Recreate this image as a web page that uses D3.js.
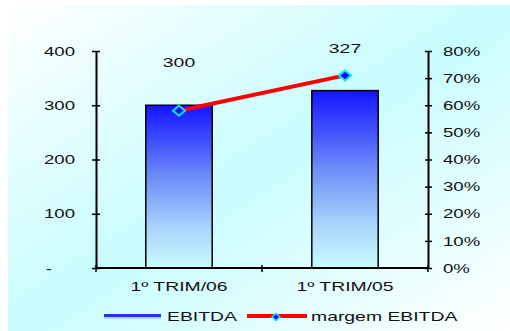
<!DOCTYPE html>
<html>
<head>
<meta charset="utf-8">
<script src="https://cdn.jsdelivr.net/npm/d3@7"></script>
<style>
  body { margin: 0; background: #fff; }
  svg text { font-family: "Liberation Sans", Arial, sans-serif; fill: #111; }
</style>
</head>
<body>
<svg id="chart" width="510" height="331"></svg>
<script>
// data
const categories = ["1º TRIM/06", "1º TRIM/05"];
const ebitda = [300, 327];
const margem = [0.58, 0.71];
const leftTicks = [0, 100, 200, 300, 400];
const rightTicks = [0, 0.1, 0.2, 0.3, 0.4, 0.5, 0.6, 0.7, 0.8];

// text in the original is stretched sideways
const sx = 1.55;

const svg = d3.select("#chart");
const defs = svg.append("defs");

// background gradient (white corners top-left / bottom-right, cyan on the other diagonal)
const bg = defs.append("linearGradient").attr("id", "bg")
  .attr("x1", 0).attr("y1", 0).attr("x2", 1).attr("y2", 1);
bg.append("stop").attr("offset", "0%").attr("stop-color", "#ffffff");
bg.append("stop").attr("offset", "50%").attr("stop-color", "#c8fcfd");
bg.append("stop").attr("offset", "100%").attr("stop-color", "#ffffff");

// bar gradient
const bar = defs.append("linearGradient").attr("id", "barFill")
  .attr("x1", 0).attr("y1", 0).attr("x2", 0).attr("y2", 1);
bar.append("stop").attr("offset", "0%").attr("stop-color", "#1414ff");
bar.append("stop").attr("offset", "45%").attr("stop-color", "#6f8ff8");
bar.append("stop").attr("offset", "75%").attr("stop-color", "#a6d4fa");
bar.append("stop").attr("offset", "100%").attr("stop-color", "#c8fcfd");

svg.append("rect").attr("x", 8).attr("y", 5).attr("width", 502).attr("height", 326)
  .attr("fill", "url(#bg)");

// scales
const x = d3.scaleBand().domain(categories).range([96, 428])
  .paddingInner(0.6).paddingOuter(0.3);
const y = d3.scaleLinear().domain([0, 400]).range([268, 51]);
const y2 = d3.scaleLinear().domain([0, 0.8]).range([268, 51]);

// bars
svg.selectAll(".bar")
  .data(ebitda)
  .enter()
  .append("rect")
  .attr("class", "bar")
  .attr("x", (d, i) => x(categories[i]))
  .attr("y", (d) => y(d))
  .attr("width", x.bandwidth())
  .attr("height", (d) => y(0) - y(d))
  .attr("fill", "url(#barFill)")
  .attr("stroke", "#000")
  .attr("stroke-width", 1.5);

// left axis
const gl = svg.append("g").attr("transform", "translate(96,0)")
  .call(d3.axisLeft(y).tickValues(leftTicks).tickSize(0).tickFormat((d) => (d === 0 ? "-" : d)));
gl.select(".domain").attr("stroke", "#000").attr("stroke-width", 2);
gl.selectAll(".tick").append("line").attr("x1", -4).attr("x2", 4).attr("stroke", "#000").attr("stroke-width", 1.5);
gl.selectAll(".tick text")
  .attr("font-size", 12)
  .attr("fill", "#111")
  .attr("dy", "0.35em")
  .attr("x", (d) => (d === 0 ? -44 : -21) / sx)
  .attr("transform", `scale(${sx},1)`);

// right axis
const gr = svg.append("g").attr("transform", "translate(428,0)")
  .call(d3.axisRight(y2).tickValues(rightTicks).tickSize(0).tickFormat(d3.format(".0%")));
gr.select(".domain").attr("stroke", "#000").attr("stroke-width", 2);
gr.selectAll(".tick").append("line").attr("x1", -3).attr("x2", 4).attr("stroke", "#000").attr("stroke-width", 1.5);
gr.selectAll(".tick text")
  .attr("font-size", 12)
  .attr("fill", "#111")
  .attr("dy", "0.35em")
  .attr("x", 15 / sx)
  .attr("transform", `scale(${sx},1)`);

// bottom axis with separators between categories
const gb = svg.append("g").attr("transform", "translate(0,268)");
gb.append("line").attr("x1", 96).attr("x2", 428).attr("stroke", "#000").attr("stroke-width", 2);
const seps = [96, x(categories[1]) - x.step() * x.paddingInner() / 2, 428];
gb.selectAll(".sep").data(seps).enter().append("line")
  .attr("x1", (d) => d).attr("x2", (d) => d).attr("y1", -3).attr("y2", 4)
  .attr("stroke", "#000").attr("stroke-width", 1.5);
gb.selectAll(".xlab").data(categories).enter().append("text")
  .attr("transform", (d) => `translate(${x(d) + x.bandwidth() / 2},23) scale(${sx},1)`)
  .attr("text-anchor", "middle")
  .attr("font-size", 12.5)
  .text((d) => d);

// data labels
svg.selectAll(".lbl").data(ebitda).enter().append("text")
  .attr("transform", (d, i) => `translate(${x(categories[i]) + x.bandwidth() / 2},${y(d) - 38}) scale(${sx},1)`)
  .attr("text-anchor", "middle")
  .attr("font-size", 12.5)
  .text((d) => d);

// margin line
const cx = (i) => x(categories[i]) + x.bandwidth() / 2;
const line = d3.line().x((d, i) => cx(i)).y((d) => y2(d));
svg.append("path").datum(margem).attr("d", line)
  .attr("fill", "none").attr("stroke", "#ff0000").attr("stroke-width", 4);

const diamond = (w, h) => `M0,${-h}L${w},0L0,${h}L${-w},0Z`;
svg.selectAll(".mk").data(margem).enter().append("path")
  .attr("d", diamond(6, 5))
  .attr("transform", (d, i) => `translate(${cx(i)},${y2(d)})`)
  .attr("fill", "#1010e8").attr("stroke", "#00e8ff").attr("stroke-width", 2);

// legend
const lg = svg.append("g");
lg.append("line").attr("x1", 104).attr("x2", 161).attr("y1", 318).attr("y2", 318)
  .attr("stroke", "#a6d4fa").attr("stroke-width", 2);
lg.append("line").attr("x1", 104).attr("x2", 161).attr("y1", 315.5).attr("y2", 315.5)
  .attr("stroke", "#2b2bff").attr("stroke-width", 3);
lg.append("text").attr("transform", `translate(167,321) scale(${sx},1)`)
  .attr("font-size", 12.5).text("EBITDA");
lg.append("line").attr("x1", 247).attr("x2", 307).attr("y1", 316).attr("y2", 316)
  .attr("stroke", "#ff0000").attr("stroke-width", 4);
lg.append("path").attr("d", diamond(4, 3.5)).attr("transform", "translate(276,317)")
  .attr("fill", "#1010e8").attr("stroke", "#00e8ff").attr("stroke-width", 1.5);
lg.append("text").attr("transform", `translate(311,321) scale(${sx},1)`)
  .attr("font-size", 12.5).text("margem EBITDA");
</script>
</body>
</html>
